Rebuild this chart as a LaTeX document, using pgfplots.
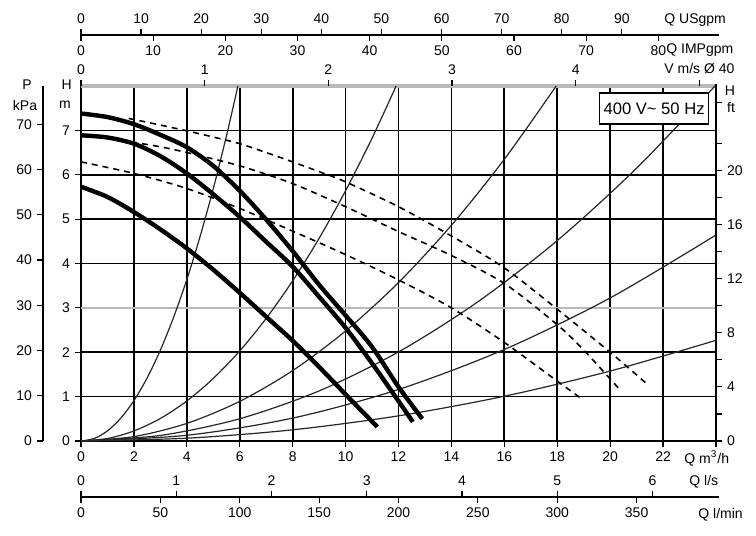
\documentclass[border=0pt]{standalone}
\usepackage{fontspec}
\setmainfont{Liberation Sans}
\usepackage{pgfplots}
\pgfplotsset{compat=1.18}
\begin{document}
\fontsize{7}{8.4}\selectfont
\begin{tikzpicture}
\useasboundingbox (0pt,0pt) rectangle (378pt,268pt);
\pgfplotsset{
  every axis/.append style={
    scale only axis,
    /pgf/number format/assume math mode=true,
    tick label style={font=\fontsize{7}{8}\selectfont},
    major tick length=3pt, minor tick length=3pt,
    tick style={black, line width=0.6pt},
    axis line style={black, line width=0.9pt, -},
    tick align=outside,
  }
}
% ---------- main axis ----------
\begin{axis}[
  at={(40.5pt,47.5pt)}, anchor=south west,
  width=317.5pt, height=177.5pt,
  xmin=0, xmax=24, ymin=0, ymax=8,
  axis lines*=left, clip=false,
  xtick={0,2,...,22}, ytick={0,...,7},
  extra x ticks={24}, extra x tick labels={{}},
  grid=major, major grid style={black, line width=0.85pt},
]
% grey reference lines
\addplot[gray!55, line width=1.3pt] coordinates {(0,3) (24,3)};
\addplot[gray!55, line width=1.6pt] coordinates {(0,8) (24,8)};
% system curves
\addplot[black!85, line width=0.6pt, smooth] coordinates {(0,0) (0.5,0.057) (1,0.228) (1.5,0.512) (2,0.91) (2.5,1.422) (3,2.048) (3.5,2.787) (4,3.64) (4.5,4.607) (5,5.688) (5.5,6.882) (5.93,8)};
\addplot[black!85, line width=0.6pt, smooth] coordinates {(0,0) (1,0.056) (2,0.226) (3,0.508) (4,0.902) (5,1.41) (6,2.03) (7,2.764) (8,3.61) (9,4.568) (10,5.64) (11,6.824) (11.91,8)};
\addplot[black!85, line width=0.6pt, smooth] coordinates {(0,0) (2,0.099) (4,0.397) (6,0.893) (8,1.587) (10,2.48) (12,3.571) (14,4.861) (16,6.349) (17.96,8)};
\addplot[black!85, line width=0.6pt, smooth] coordinates {(0,0) (3,0.125) (6,0.502) (9,1.129) (12,2.007) (15,3.137) (18,4.517) (21,6.148) (23.96,8)};
\addplot[black!85, line width=0.6pt, smooth] coordinates {(0,0) (4,0.129) (8,0.516) (12,1.161) (16,2.063) (20,3.224) (24,4.643)};
\addplot[black!85, line width=0.6pt, smooth] coordinates {(0,0) (4,0.063) (8,0.252) (12,0.567) (16,1.009) (20,1.576) (24,2.269)};
% dashed curves
\addplot[black, line width=0.8pt, dash pattern=on 3pt off 2.5pt, smooth] coordinates {(1.8,7.27) (3,7.12) (4,6.99) (5,6.85) (6,6.7) (7,6.5) (8,6.29) (9,6.07) (10,5.84) (12,5.28) (14,4.62) (16,3.9) (18,2.97) (20,2.0) (21.4,1.28)};
\addplot[black, line width=0.8pt, dash pattern=on 3pt off 2.5pt, smooth] coordinates {(1.9,6.74) (3,6.63) (4,6.5) (6,6.2) (8,5.8) (10,5.28) (12,4.72) (14,4.18) (16,3.55) (18,2.62) (19,2.05) (20.3,1.2)};
\addplot[black, line width=0.8pt, dash pattern=on 3pt off 2.5pt, smooth] coordinates {(0,6.29) (2,6.03) (4,5.69) (6,5.24) (8,4.73) (10,4.2) (12,3.63) (14,3.0) (16,2.22) (18,1.35) (18.9,0.96)};
% pump curves
\addplot[black, line width=2.2pt, smooth] coordinates {(0,7.38) (1,7.3) (2,7.14) (3,6.9) (4,6.62) (5,6.2) (6,5.64) (7,4.99) (8,4.28) (9,3.52) (10,2.83) (11,2.12) (12,1.22) (12.9,0.5)};
\addplot[black, line width=2.2pt, smooth] coordinates {(0,6.89) (1,6.84) (2,6.7) (3,6.42) (4,6.03) (5,5.56) (6,5.05) (7,4.49) (8,3.93) (9,3.25) (10,2.55) (11,1.75) (12,0.9) (12.54,0.43)};
\addplot[black, line width=2.2pt, smooth] coordinates {(0,5.73) (1,5.5) (2,5.16) (3,4.77) (4,4.34) (5,3.86) (6,3.34) (7,2.8) (8,2.26) (9,1.67) (10,1.05) (11,0.44) (11.2,0.32)};
\node[draw=black, line width=0.7pt, fill=white, minimum width=54.5pt, minimum height=15.5pt, inner sep=0pt, font=\fontsize{8.3}{9}\selectfont] at (axis cs:21.66,7.49) {400 V\textasciitilde{} 50 Hz};
\end{axis}
% ---------- P kPa axis ----------
\begin{axis}[at={(21.5pt,47.5pt)}, anchor=south west, width=1pt, height=177.5pt,
  xmin=0, xmax=1, ymin=0, ymax=78.48, axis y line*=left, axis x line=none,
  ytick={0,10,...,70}]
\end{axis}
% ---------- H ft axis ----------
\begin{axis}[at={(358pt,47.5pt)}, anchor=south east, width=1pt, height=178.5pt,
  xmin=0, xmax=1, ymin=0, ymax=26.395, axis y line*=right, axis x line=none,
  ytick={0,4,...,20}, minor ytick={2,6,10,14,18,22,25}]
\end{axis}
% ---------- V m/s axis ----------
\begin{axis}[at={(40.5pt,225pt)}, anchor=north west, width=317.5pt, height=5pt,
  xmin=0, xmax=5.1337, ymin=0, ymax=1, axis x line*=top, axis y line=none,
  axis line style={draw=none},
  xtick={0,...,5}, xticklabels={0,1,2,3,4,{}}]
\end{axis}
% ---------- gpm axes ----------
\begin{axis}[at={(40.5pt,250.5pt)}, anchor=north west, width=319pt, height=5pt,
  xmin=0, xmax=106.17, ymin=0, ymax=1, axis x line*=top, axis y line=none,
  xtick={0,10,...,90}]
\end{axis}
\begin{axis}[at={(40.5pt,250.5pt)}, anchor=south west, width=319pt, height=5pt,
  xmin=0, xmax=88.40, ymin=0, ymax=1, axis x line*=bottom, axis y line=none,
  xtick={0,10,...,80}]
\end{axis}
% ---------- l/s, l/min axes ----------
\begin{axis}[at={(40.5pt,19.5pt)}, anchor=north west, width=319pt, height=5pt,
  xmin=0, xmax=6.698, ymin=0, ymax=1, axis x line*=top, axis y line=none,
  xtick={0,...,6}]
\end{axis}
\begin{axis}[at={(40.5pt,19.5pt)}, anchor=south west, width=319pt, height=5pt,
  xmin=0, xmax=401.9, ymin=0, ymax=1, axis x line*=bottom, axis y line=none,
  xtick={0,50,...,350}]
\end{axis}
% ---------- labels ----------
\node at (13.5pt,225.5pt) {P};
\node at (12.5pt,215.5pt) {kPa};
\node at (33.3pt,225.5pt) {H};
\node at (32.5pt,215.5pt) {m};
\node at (365pt,222.5pt) {H};
\node at (365.5pt,214.5pt) {ft};
\node[anchor=west, inner sep=0pt] at (342pt,39pt) {Q m\textsuperscript{3}/h};
\node[anchor=west, inner sep=0pt] at (344.5pt,27pt) {Q l/s};
\node[anchor=west, inner sep=0pt] at (349pt,10.5pt) {Q l/min};
\node[anchor=west, inner sep=0pt] at (332pt,258pt) {Q USgpm};
\node[anchor=west, inner sep=0pt] at (333pt,243pt) {Q IMPgpm};
\node[anchor=west, inner sep=0pt] at (332pt,233.5pt) {V m/s Ø 40};
\end{tikzpicture}
\end{document}
